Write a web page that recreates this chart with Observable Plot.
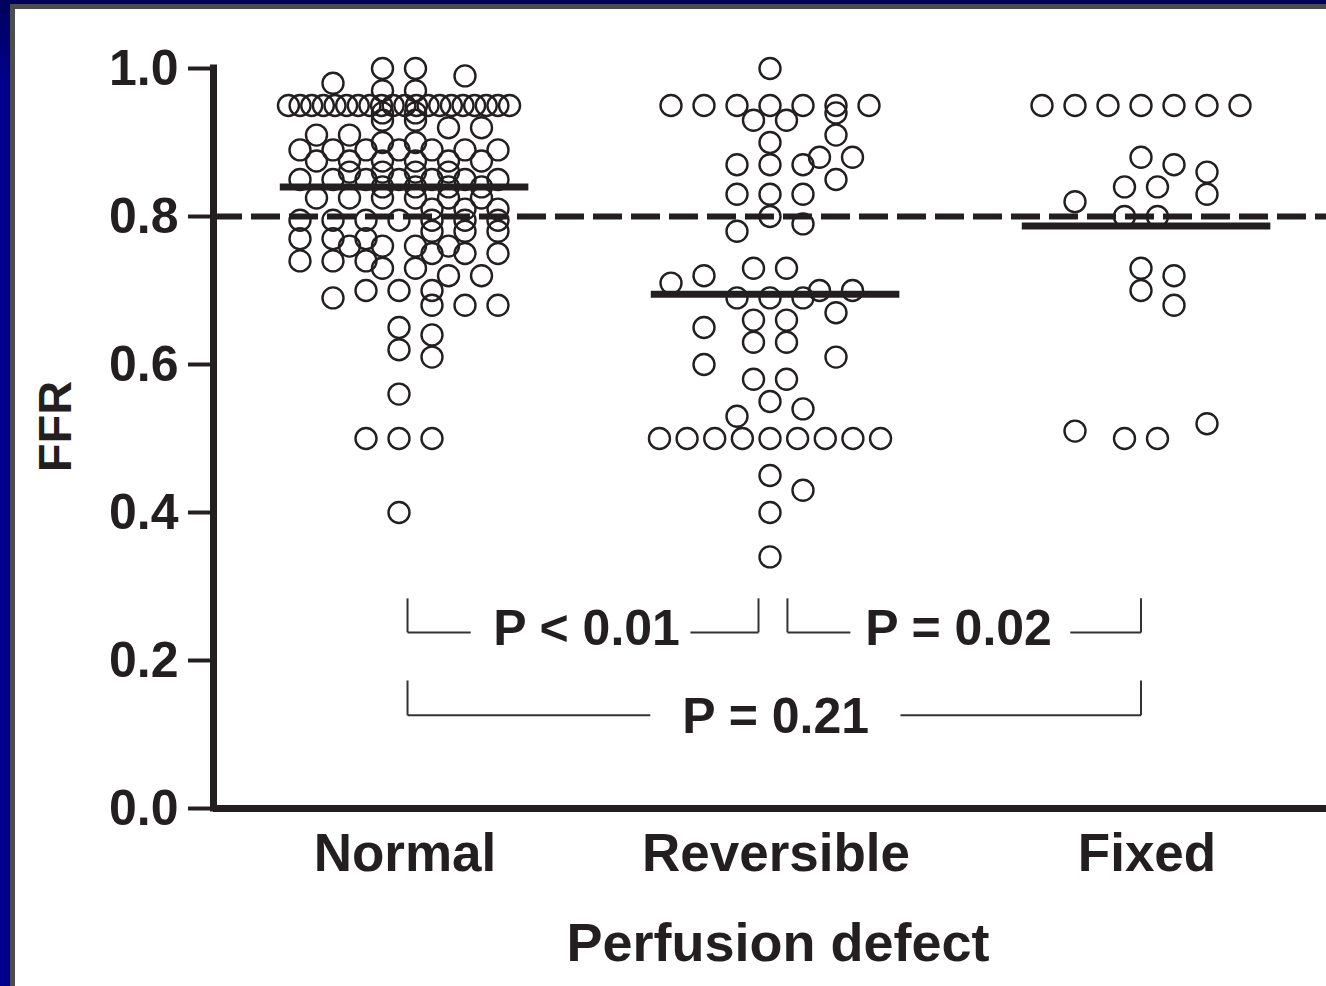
<!DOCTYPE html>
<html><head><meta charset="utf-8">
<script src="https://cdn.jsdelivr.net/npm/d3@7"></script>
<script src="https://cdn.jsdelivr.net/npm/@observablehq/plot@0.6"></script>
<style>
html,body{margin:0;padding:0;}
body{width:1326px;height:986px;background:linear-gradient(#00005c 0px,#00008c 80px);position:relative;overflow:hidden;}
#panel{position:absolute;left:10px;top:4px;right:0;bottom:0;background:#fff;border-left:5px solid #4d4d4d;border-top:5px solid #4d4d4d;}
#chart{position:absolute;left:15px;top:9px;}
</style></head><body><div id="panel"></div><div id="chart"></div>
<script>
// ---- data ----
const groups = ["Normal", "Reversible", "Fixed"];
const normalFFR = [1.00, 1.00, 0.99, 0.98, 0.97, 0.97,
  0.95, 0.95, 0.95, 0.95, 0.95, 0.95, 0.95, 0.95, 0.95, 0.95,
  0.95, 0.95, 0.95, 0.95, 0.95, 0.95, 0.95, 0.95, 0.95, 0.95,
  0.94, 0.94, 0.93, 0.93, 0.92, 0.92, 0.91, 0.91, 0.90, 0.90,
  0.89, 0.89, 0.89, 0.89, 0.89, 0.89, 0.89,
  0.875, 0.875, 0.875, 0.875, 0.875, 0.875,
  0.86, 0.86, 0.86, 0.86,
  0.85, 0.85, 0.85, 0.85, 0.85, 0.85, 0.85,
  0.84, 0.84, 0.84, 0.84,
  0.825, 0.825, 0.825, 0.825, 0.825, 0.825,
  0.81, 0.81, 0.81,
  0.795, 0.795, 0.795, 0.795, 0.795, 0.795, 0.795,
  0.78, 0.78, 0.78, 0.77, 0.77, 0.77,
  0.76, 0.76, 0.76, 0.76, 0.75, 0.75, 0.75, 0.74, 0.74, 0.74,
  0.73, 0.73, 0.72, 0.72, 0.70, 0.70, 0.70, 0.69, 0.68, 0.68, 0.68,
  0.65, 0.64, 0.62, 0.61, 0.56, 0.50, 0.50, 0.50, 0.40];
const reversibleFFR = [1.00,
  0.95, 0.95, 0.95, 0.95, 0.95, 0.95, 0.95,
  0.94, 0.93, 0.93, 0.91, 0.90, 0.88, 0.88, 0.87, 0.87, 0.87, 0.85,
  0.83, 0.83, 0.83, 0.80, 0.79, 0.78,
  0.73, 0.73, 0.72, 0.71, 0.70, 0.70, 0.69, 0.69, 0.69,
  0.67, 0.66, 0.66, 0.65, 0.63, 0.63, 0.61, 0.60, 0.58, 0.58,
  0.55, 0.54, 0.53,
  0.50, 0.50, 0.50, 0.50, 0.50, 0.50, 0.50, 0.50, 0.50,
  0.45, 0.43, 0.40, 0.34];
const fixedFFR = [0.95, 0.95, 0.95, 0.95, 0.95, 0.95, 0.95,
  0.88, 0.87, 0.86, 0.84, 0.84, 0.83, 0.82, 0.80, 0.80,
  0.73, 0.72, 0.70, 0.68, 0.52, 0.51, 0.50, 0.50];
const meanFFR = [0.84, 0.695, 0.787];
const cutoff = 0.8;
const yTicks = [0.0, 0.2, 0.4, 0.6, 0.8, 1.0];
const comparisons = [
  {from: 0, to: 1, label: "P < 0.01"},
  {from: 1, to: 2, label: "P = 0.02"},
  {from: 0, to: 2, label: "P = 0.21"}
];

// ---- layout helpers (column scatter like GraphPad) ----
const series = [normalFFR, reversibleFFR, fixedFFR];
const SLOT = 33 / 371;          // column spacing in x units
function columnScatter(values) {
  const clusters = d3.rollups(values, v => v.length, d => d)
    .sort((a, b) => b[1] - a[1] || b[0] - a[0]);
  const placed = [];
  for (const [v, n] of clusters) {
    const step = n > 1 ? Math.min(1, 6.7 / (n - 1)) : 1;
    const base = d3.range(n).map(k => (k - (n - 1) / 2) * step);
    const room = Math.max(0, Math.floor(3 - (n - 1) / 2 * step + 1e-9));
    const cands = [0];
    for (let s = 1; s <= room; s++) cands.push(s, -s);
    let best = 0, bestC = Infinity;
    for (const s of cands) {
      let c = 0;
      for (const b of base) for (const p of placed)
        if (Math.abs(p.slot - (b + s)) < 0.67 && Math.abs(p.v - v) < 0.0297) c++;
      if (c < bestC) { bestC = c; best = s; }
      if (c === 0) break;
    }
    for (const b of base) placed.push({slot: b + best, v});
  }
  return placed;
}
const points = groups.flatMap((g, gi) =>
  columnScatter(series[gi]).map(p => ({group: g, ffr: p.v, pos: gi + p.slot * SLOT})));
const means = groups.map((g, gi) => ({group: g, gi, ffr: meanFFR[gi]}));

// bracket geometry (annotation layout)
const levelGeom = [{yH: 0.238, yTop: 0.284, yText: 0.243}, {yH: 0.126, yTop: 0.173, yText: 0.124}];
const bracketGeom = [
  {x1: 0.023, x2: 0.969, gapL: 0.18, gapR: 0.806, t: 0.51, level: 0},
  {x1: 1.047, x2: 2.0, gapL: 0.178, gapR: 0.80, t: 0.484, level: 0},
  {x1: 0.023, x2: 2.0, gapL: 0.331, gapR: 0.672, t: 0.502, level: 1}
];
const segs = [];
const ptext = [];
comparisons.forEach((c, i) => {
  const b = bracketGeom[i], L = levelGeom[b.level];
  const span = b.x2 - b.x1;
  segs.push({x1: b.x1, y1: L.yTop, x2: b.x1, y2: L.yH});
  segs.push({x1: b.x1, y1: L.yH, x2: b.x1 + span * b.gapL, y2: L.yH});
  segs.push({x1: b.x1 + span * b.gapR, y1: L.yH, x2: b.x2, y2: L.yH});
  segs.push({x1: b.x2, y1: L.yH, x2: b.x2, y2: L.yTop});
  ptext.push({x: b.x1 + span * b.t, y: L.yText, label: c.label});
});

const ink = "#231f20";
const font = "'Liberation Sans', Arial, Helvetica, sans-serif";

const chart = Plot.plot({
  width: 1311,
  height: 977,
  marginLeft: 198,
  marginRight: 0,
  marginTop: 59,
  marginBottom: 178,
  style: {fontFamily: font, color: ink},
  x: {domain: [-0.5, 2.5], axis: null},
  y: {domain: [0, 1], axis: null},
  marks: [
    Plot.ruleY([cutoff], {x1: -0.5, x2: 2.5, stroke: ink, strokeWidth: 6, strokeDasharray: "29,9"}),
    Plot.dot(points, {x: "pos", y: "ffr", r: 10.5, stroke: ink, strokeWidth: 2.4, fill: "none"}),
    Plot.ruleY(means, {y: "ffr", x1: d => d.gi - 0.32, x2: d => d.gi + 0.35, stroke: ink, strokeWidth: 7}),
    Plot.link(segs, {x1: "x1", y1: "y1", x2: "x2", y2: "y2", stroke: "#333", strokeWidth: 2}),
    Plot.text(ptext, {x: "x", y: "y", text: "label", fontSize: 50, fontWeight: "bold", fill: ink}),
    Plot.axisY({ticks: yTicks, tickFormat: d3.format(".1f"), tickSize: 25, tickPadding: 10,
      strokeWidth: 4, fontSize: 50, fontWeight: "bold", color: ink, label: null}),
    Plot.ruleX([-0.5], {y1: 0, y2: 1, stroke: ink, strokeWidth: 7, strokeLinecap: "square"}),
    Plot.ruleY([0], {x1: -0.5, x2: 2.5, stroke: ink, strokeWidth: 7}),
    Plot.axisX({ticks: [0, 1, 2], tickFormat: i => groups[i], tickSize: 0, tickPadding: 25,
      fontSize: 53, fontWeight: "bold", color: ink, label: null, dx: 6}),
    Plot.text(["FFR"], {frameAnchor: "left", textAnchor: "middle", rotate: -90, dx: -158, dy: -12,
      fontSize: 47, fontWeight: "bold", fill: ink}),
    Plot.text(["Perfusion defect"], {frameAnchor: "bottom", lineAnchor: "top", dx: 8, dy: 114,
      fontSize: 54, fontWeight: "bold", fill: ink})
  ]
});
document.getElementById("chart").appendChild(chart);
</script>
</body></html>
